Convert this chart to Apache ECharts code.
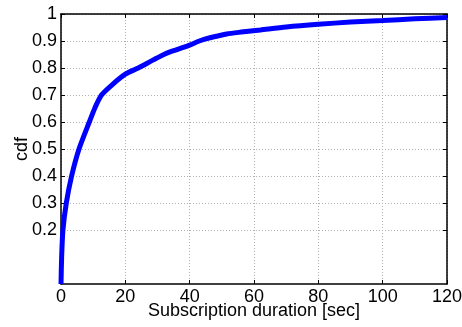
<!DOCTYPE html>
<html>
<head>
<meta charset="utf-8">
<script src="https://cdn.jsdelivr.net/npm/echarts@6/dist/echarts.min.js"></script>
<style>
html,body{margin:0;padding:0;background:#fff;}
#chart{width:462px;height:327px;}
</style>
</head>
<body>
<div id="chart"></div>
<script>
const durations = [0, 0.2, 0.6, 1.65, 3.3, 5.6, 8.8, 10.6, 12.6, 15.8, 20, 24, 28.7, 32.3, 36, 40, 43, 46, 51.5, 56, 62, 70, 80, 90, 100, 110, 120];
const cdfValues = [0, 0.1, 0.2, 0.3, 0.4, 0.5, 0.6, 0.654, 0.7, 0.737, 0.777, 0.8, 0.83, 0.852, 0.868, 0.885, 0.9, 0.911, 0.926, 0.933, 0.941, 0.952, 0.962, 0.97, 0.976, 0.982, 0.987];
const xTicks = [0, 20, 40, 60, 80, 100, 120];
const yTicks = [0.2, 0.3, 0.4, 0.5, 0.6, 0.7, 0.8, 0.9, 1];
const xTitle = 'Subscription duration [sec]';
const yTitle = 'cdf';

const font = 'Liberation Sans, Arial, Helvetica, sans-serif';
const chart = echarts.init(document.getElementById('chart'));
const axisLine = {show: true, onZero: false, lineStyle: {color: '#000', width: 1.5}};
const grid = {show: true, type: [1, 2], color: '#b0b0b0', width: 1};
chart.setOption({
  animation: false,
  backgroundColor: '#fff',
  grid: {left: 61, right: 15, top: 14, bottom: 43, outerBoundsMode: 'none', containLabel: false},
  xAxis: [{
    type: 'value', min: 0, max: 120, interval: 20, position: 'bottom',
    name: xTitle, nameLocation: 'middle', nameGap: 18, nameMoveOverlap: false,
    nameTextStyle: {fontFamily: font, fontSize: 18, color: '#000'},
    axisLine: axisLine,
    axisTick: {show: true, inside: true, length: 4, customValues: xTicks, lineStyle: {color: '#000'}},
    axisLabel: {fontFamily: font, fontSize: 18, color: '#000', margin: 4, customValues: xTicks},
    splitLine: {show: true, lineStyle: grid}
  }, {
    type: 'value', min: 0, max: 120, interval: 20, position: 'top',
    axisLine: axisLine,
    axisTick: {show: true, inside: true, length: 4, lineStyle: {color: '#000'}},
    axisLabel: {show: false}, splitLine: {show: false}
  }],
  yAxis: [{
    type: 'value', min: 0, max: 1, interval: 0.1, position: 'left',
    name: yTitle, nameLocation: 'middle', nameGap: 30, nameMoveOverlap: false,
    nameTextStyle: {fontFamily: font, fontSize: 18, color: '#000'},
    axisLine: axisLine,
    axisTick: {show: true, inside: true, length: 4, customValues: yTicks, lineStyle: {color: '#000'}},
    axisLabel: {fontFamily: font, fontSize: 18, color: '#000', margin: 4, customValues: yTicks,
      formatter: v => (Math.abs(v - 1) < 1e-9 ? '1' : String(Math.round(v * 10) / 10))},
    splitLine: {show: true, lineStyle: grid}
  }, {
    type: 'value', min: 0, max: 1, interval: 0.1, position: 'right',
    axisLine: axisLine,
    axisTick: {show: true, inside: true, length: 4, customValues: yTicks, lineStyle: {color: '#000'}},
    axisLabel: {show: false}, splitLine: {show: false}
  }],
  series: [{
    type: 'line',
    data: durations.map((d, i) => [d, cdfValues[i]]),
    showSymbol: false,
    smooth: 0.25,
    lineStyle: {color: '#0000ff', width: 5},
    clip: false
  }]
});
</script>
</body>
</html>
